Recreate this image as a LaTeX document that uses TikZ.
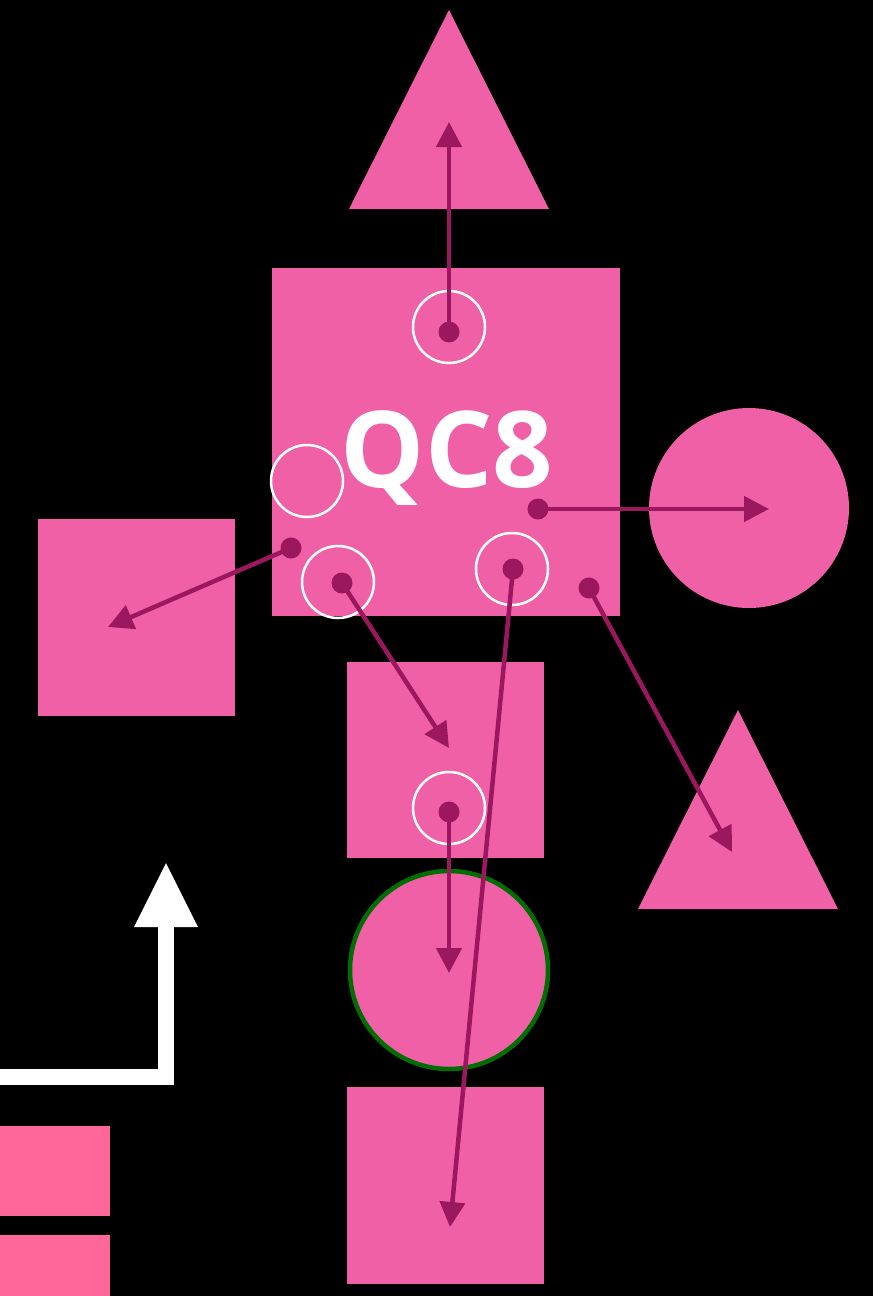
\documentclass[tikz,border=0pt]{standalone}
\usepackage{fontspec}
\setmainfont{Open Sans}
\usetikzlibrary{arrows.meta}
\definecolor{pk}{RGB}{239,96,167}
\definecolor{pk2}{RGB}{255,102,153}
\definecolor{dk}{RGB}{156,24,94}
\definecolor{gr}{RGB}{0,110,0}
\tikzset{
  shp/.style={fill=pk},
  ring/.style={draw=white,line width=2.5pt},
  dotn/.style={circle,fill=dk,inner sep=0pt,minimum size=21pt},
  conn/.style={draw=dk,line width=4.5pt,-{Triangle[length=25pt,width=25pt]}}
}
\begin{document}
\begin{tikzpicture}[x=1pt,y=-1pt]
\useasboundingbox[fill=black] (0,0) rectangle (873,1296);
% shapes
\fill[shp] (449,10) -- (549,209) -- (349,209) -- cycle;
\fill[shp] (272,268) rectangle (620,616);
\fill[shp] (749,508) circle[radius=100];
\fill[shp] (38,519) rectangle (235,716);
\fill[shp] (347,662) rectangle (544,858);
\fill[shp] (738,710) -- (838,909) -- (638,909) -- cycle;
\filldraw[fill=pk,draw=gr,line width=4.5pt] (449,970) circle[radius=99];
\fill[shp] (347,1087) rectangle (544,1284);
\fill[pk2] (0,1126) rectangle (110,1216);
\fill[pk2] (0,1235) rectangle (110,1300);
% white L arrow
\draw[white,line width=16pt] (0,1077) -- (166,1077) -- (166,926);
\fill[white] (166,863) -- (198,927) -- (134,927) -- cycle;
% label
\node[font=\bfseries\fontsize{106}{106}\selectfont,text=white,anchor=base,inner sep=0pt] (lbl) at (447,487) {QC8};
% rings
\draw[ring] (449,327) circle[radius=36];
\draw[ring] (307,481) circle[radius=36];
\draw[ring] (338,582) circle[radius=36];
\draw[ring] (512,569) circle[radius=36];
\draw[ring] (449,808) circle[radius=36];
% dots
\node[dotn] (d1) at (449,332) {};
\node[dotn] (d2) at (538,509) {};
\node[dotn] (d3) at (291,548) {};
\node[dotn] (d4) at (342,583) {};
\node[dotn] (d5) at (513,569) {};
\node[dotn] (d6) at (589,588) {};
\node[dotn] (d7) at (449,812) {};
% targets
\coordinate (t1) at (449,122);
\coordinate (t2) at (769,509);
\coordinate (t3) at (108,627);
\coordinate (t4) at (449,748);
\coordinate (t5) at (450,1227);
\coordinate (t6) at (732,852);
\coordinate (t7) at (449,973);
\draw[conn] (d1.center) -- (t1);
\draw[conn] (d2.center) -- (t2);
\draw[conn] (d3.center) -- (t3);
\draw[conn] (d4.center) -- (t4);
\draw[conn] (d5.center) -- (t5);
\draw[conn] (d6.center) -- (t6);
\draw[conn] (d7.center) -- (t7);
\end{tikzpicture}
\end{document}
